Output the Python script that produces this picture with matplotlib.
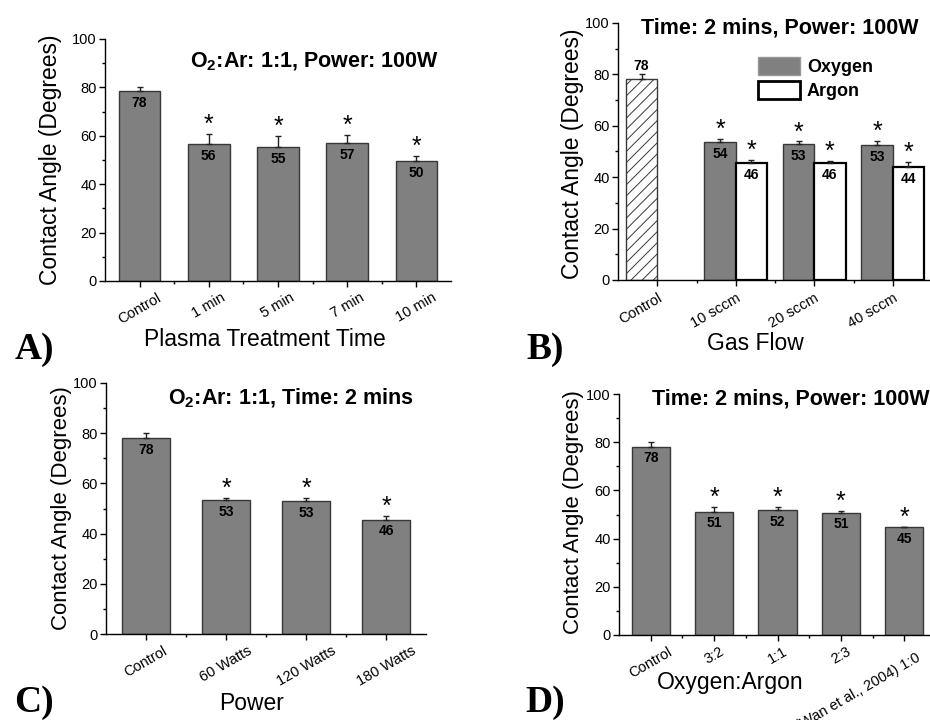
import matplotlib
matplotlib.use('Agg')
import matplotlib.pyplot as plt
import matplotlib.transforms as mtransforms
from matplotlib.patches import Patch
from matplotlib.ticker import MultipleLocator

plt.rcParams['font.family'] = ['Liberation Sans', 'DejaVu Sans']
plt.rcParams['mathtext.fontset'] = 'custom'
plt.rcParams['mathtext.rm'] = 'Liberation Sans:bold'
plt.rcParams['mathtext.it'] = 'Liberation Sans:bold'
plt.rcParams['mathtext.bf'] = 'Liberation Sans:bold'
plt.rcParams['mathtext.default'] = 'regular'
plt.rcParams['hatch.linewidth'] = 0.7
plt.rcParams['hatch.color'] = '#404040'

# Panel A - plasma treatment time
a_labels = ['Control', '1 min', '5 min', '7 min', '10 min']
a_values = [78.4, 56.5, 55.2, 57.0, 49.6]
a_errors = [1.6, 4.4, 4.7, 3.5, 1.9]
a_text = ['78', '56', '55', '57', '50']

# Panel B - gas flow
b_labels = ['Control', '10 sccm', '20 sccm', '40 sccm']
b_control = 78.3
b_control_err = 1.7
b_oxygen = [53.7, 52.8, 52.4]
b_oxygen_err = [1.0, 1.1, 1.7]
b_oxygen_text = ['54', '53', '53']
b_argon = [45.5, 45.5, 44.0]
b_argon_err = [1.3, 0.9, 1.8]
b_argon_text = ['46', '46', '44']

# Panel C - power
c_labels = ['Control', '60 Watts', '120 Watts', '180 Watts']
c_values = [78.2, 53.3, 53.0, 45.6]
c_errors = [1.9, 1.0, 1.2, 1.4]
c_text = ['78', '53', '53', '46']

# Panel D - oxygen:argon ratio
d_labels = ['Control', '3:2', '1:1', '2:3', '(Wan et al., 2004) 1:0']
d_values = [78.2, 51.2, 51.7, 50.8, 44.9]
d_errors = [1.7, 2.1, 1.3, 0.8, 0.0]
d_text = ['78', '51', '52', '51', '45']

BAR_GRAY = '#808080'
EDGE = '#383838'

W, H = 930, 720
fig = plt.figure(figsize=(W / 100, H / 100), dpi=100)


def px_axes(left, right, top, bottom):
    # axes box from pixel coordinates of the reference
    return fig.add_axes([left / W, 1 - bottom / H, (right - left) / W, (bottom - top) / H])


def fig_text(x, y, s, **kw):
    fig.text(x / W, 1 - y / H, s, **kw)


def style_axis(ax, labels, n):
    ax.set_ylim(0, 100)
    ax.set_xlim(-0.5, n - 0.5)
    ax.spines['top'].set_visible(False)
    ax.spines['right'].set_visible(False)
    ax.yaxis.set_major_locator(MultipleLocator(20))
    ax.yaxis.set_minor_locator(MultipleLocator(10))
    ax.set_xticks(range(n))
    ax.set_xticks([i + 0.5 for i in range(n - 1)], minor=True)
    ax.set_xticklabels(labels, rotation=30, ha='center', fontsize=10.5)
    ax.tick_params(axis='both', which='major', direction='out', length=4, width=1, labelsize=10.5, pad=2)
    ax.tick_params(axis='x', which='major', pad=3)
    ax.tick_params(axis='both', which='minor', direction='out', length=2.5, width=1)
    for sp in ['left', 'bottom']:
        ax.spines[sp].set_linewidth(1)


def draw_bars(ax, x, values, errors, texts, stars, width=0.6, color=BAR_GRAY, edge=EDGE, lw=1.0):
    ax.bar(x, values, width=width, color=color, edgecolor=edge, linewidth=lw, zorder=2)
    ax.errorbar(x, values, yerr=[[0] * len(values), errors], fmt='none', ecolor='#222222',
                elinewidth=1, capsize=2.5, capthick=1, zorder=3)
    for xi, v, e, t, s in zip(x, values, errors, texts, stars):
        ax.annotate(t, (xi, v), xytext=(0, -3.5), textcoords='offset points',
                    ha='center', va='top', fontsize=10, fontweight='bold', zorder=4)
        if s:
            ax.annotate('*', (xi, v + e), xytext=(0, 1.5), textcoords='offset points',
                        ha='center', va='baseline', fontsize=18, zorder=4)


# ---- A ----
ax_a = px_axes(105, 451, 39, 281)
style_axis(ax_a, a_labels, len(a_labels))
draw_bars(ax_a, range(len(a_values)), a_values, a_errors, a_text, [False] + [True] * 4)
fig_text(314, 62, 'O$_2$:Ar: 1:1, Power: 100W', ha='center', va='center', fontsize=15.5, fontweight='bold')
fig_text(51, 160, 'Contact Angle (Degrees)', rotation=90, ha='center', va='center', fontsize=16.5)
fig_text(265, 340, 'Plasma Treatment Time', ha='center', va='center', fontsize=16.5)
fig_text(34, 349, 'A)', ha='center', va='center', fontsize=27, fontweight='bold', family='Liberation Serif')

# ---- B ----
ax_b = px_axes(618, 932, 23, 280)
style_axis(ax_b, b_labels, len(b_labels))
bw = 0.4
ax_b.bar(0 - bw / 2, b_control, width=bw, color='white', edgecolor=EDGE, linewidth=1, hatch='///', zorder=2)
ax_b.errorbar(0 - bw / 2, b_control, yerr=[[0], [b_control_err]], fmt='none', ecolor='#222222',
              elinewidth=1, capsize=2.5, capthick=1, zorder=3)
ax_b.annotate('78', (0 - bw / 2, b_control + b_control_err), xytext=(0, 1), textcoords='offset points',
              ha='center', va='bottom', fontsize=10, fontweight='bold')
gx = [1, 2, 3]
draw_bars(ax_b, [g - bw / 2 for g in gx], b_oxygen, b_oxygen_err, b_oxygen_text, [True] * 3, width=bw)
draw_bars(ax_b, [g + bw / 2 for g in gx], b_argon, b_argon_err, b_argon_text, [True] * 3, width=bw,
          color='white', edge='black', lw=1.6)
for lab in ax_b.get_xticklabels():
    lab.set_ha('right')
    lab.set_rotation_mode('anchor')
    lab.set_va('top')
    lab.set_transform(lab.get_transform() + mtransforms.ScaledTranslation(0, -1 / 72, fig.dpi_scale_trans))
handles = [Patch(facecolor=BAR_GRAY, edgecolor='#999999', linewidth=1),
           Patch(facecolor='white', edgecolor='black', linewidth=2)]
fig.legend(handles, ['Oxygen', 'Argon'], loc='upper left', bbox_to_anchor=(758 / W, 1 - 57 / H),
           frameon=False, borderpad=0, borderaxespad=0, handlelength=2.3, handleheight=1.15,
           handletextpad=0.4, labelspacing=0.25, prop={'weight': 'bold', 'size': 13})
fig_text(780, 28, 'Time: 2 mins, Power: 100W', ha='center', va='center', fontsize=15.5, fontweight='bold')
fig_text(572, 154, 'Contact Angle (Degrees)', rotation=90, ha='center', va='center', fontsize=16.5)
fig_text(755, 343, 'Gas Flow', ha='center', va='center', fontsize=16.5)
fig_text(545, 349, 'B)', ha='center', va='center', fontsize=27, fontweight='bold', family='Liberation Serif')

# ---- C ----
ax_c = px_axes(106, 426, 383, 634)
style_axis(ax_c, c_labels, len(c_labels))
draw_bars(ax_c, range(len(c_values)), c_values, c_errors, c_text, [False] + [True] * 3)
fig_text(291, 398, 'O$_2$:Ar: 1:1, Time: 2 mins', ha='center', va='center', fontsize=15.5, fontweight='bold')
fig_text(62, 508, 'Contact Angle (Degrees)', rotation=90, ha='center', va='center', fontsize=16)
fig_text(252, 703, 'Power', ha='center', va='center', fontsize=16.5)
fig_text(34, 702, 'C)', ha='center', va='center', fontsize=27, fontweight='bold', family='Liberation Serif')

# ---- D ----
ax_d = px_axes(619, 936, 394, 635)
style_axis(ax_d, d_labels, len(d_labels))
draw_bars(ax_d, range(len(d_values)), d_values, d_errors, d_text, [False] + [True] * 4)
long_lab = ax_d.get_xticklabels()[-1]
long_lab.set_ha('right')
long_lab.set_rotation_mode('anchor')
long_lab.set_transform(long_lab.get_transform() + mtransforms.ScaledTranslation(8 / 72, -4 / 72, fig.dpi_scale_trans))
fig_text(791, 399, 'Time: 2 mins, Power: 100W', ha='center', va='center', fontsize=15.5, fontweight='bold')
fig_text(574, 512, 'Contact Angle (Degrees)', rotation=90, ha='center', va='center', fontsize=16)
fig_text(730, 682, 'Oxygen:Argon', ha='center', va='center', fontsize=16.5)
fig_text(545, 702, 'D)', ha='center', va='center', fontsize=27, fontweight='bold', family='Liberation Serif')

fig.savefig('out.png', dpi=100)
